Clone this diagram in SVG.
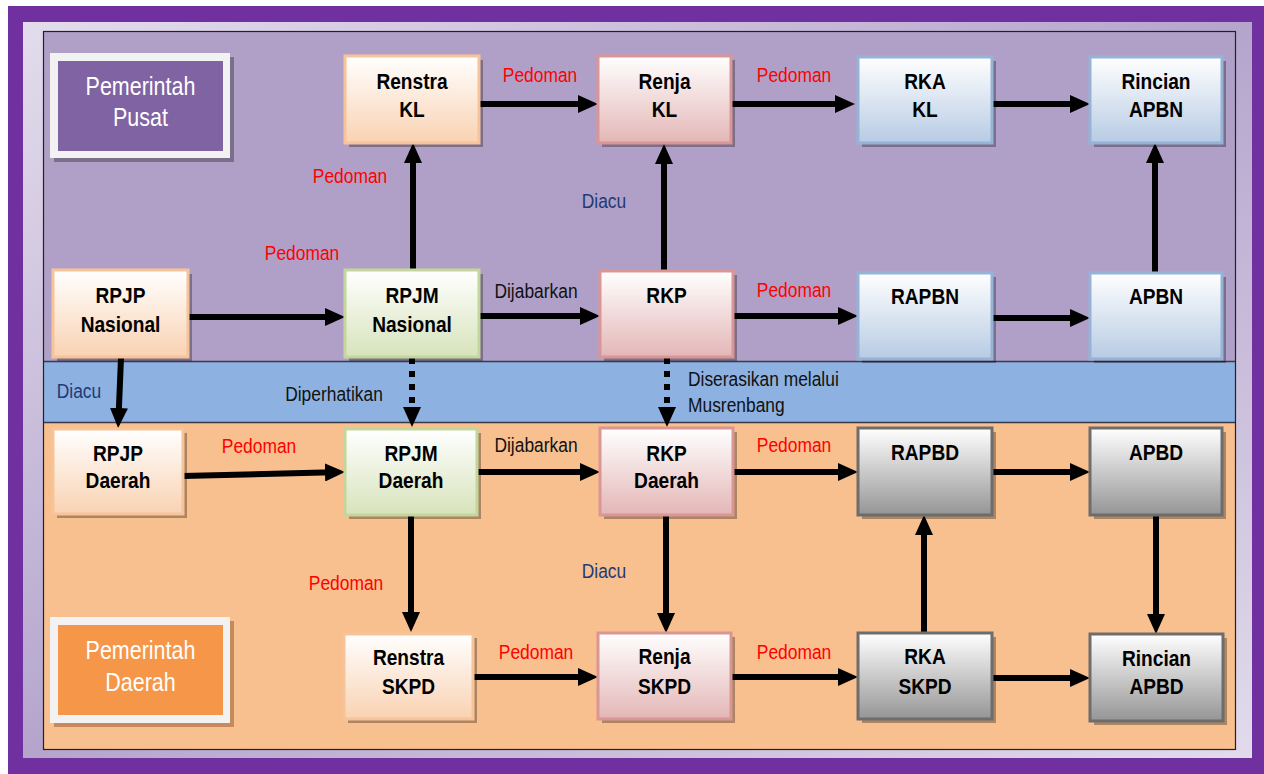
<svg xmlns="http://www.w3.org/2000/svg" width="1264" height="774" viewBox="0 0 1264 774">
<defs>
<linearGradient id="frameG" x1="0" y1="0" x2="1" y2="1">
<stop offset="0" stop-color="#e3dcec"/><stop offset="0.5" stop-color="#b5a5cd"/><stop offset="1" stop-color="#e2dbec"/>
</linearGradient>
<linearGradient id="gPeach" x1="0" y1="0" x2="0" y2="1"><stop offset="0" stop-color="#ffffff"/><stop offset="1" stop-color="#f9d2b2"/></linearGradient>
<linearGradient id="gGreen" x1="0" y1="0" x2="0" y2="1"><stop offset="0" stop-color="#ffffff"/><stop offset="1" stop-color="#d7e3bb"/></linearGradient>
<linearGradient id="gPink" x1="0" y1="0" x2="0" y2="1"><stop offset="0" stop-color="#ffffff"/><stop offset="1" stop-color="#e4b6b6"/></linearGradient>
<linearGradient id="gBlue" x1="0" y1="0" x2="0" y2="1"><stop offset="0" stop-color="#ffffff"/><stop offset="1" stop-color="#b7cbe4"/></linearGradient>
<linearGradient id="gGray" x1="0" y1="0" x2="0" y2="1"><stop offset="0" stop-color="#ffffff"/><stop offset="1" stop-color="#959595"/></linearGradient>
<marker id="ah" viewBox="0 0 20 18" markerWidth="20" markerHeight="18" refX="8" refY="9" orient="auto" markerUnits="userSpaceOnUse">
<path d="M0,0 L20,9 L0,18 Z" fill="#000"/>
</marker>
<style>
.peach{fill:url(#gPeach);stroke:#f7c398;stroke-width:3}
.green{fill:url(#gGreen);stroke:#c3d69b;stroke-width:3}
.pink{fill:url(#gPink);stroke:#d99694;stroke-width:3}
.blue{fill:url(#gBlue);stroke:#95b3d7;stroke-width:3}
.gray{fill:url(#gGray);stroke:#6d6d6d;stroke-width:3}
.sh{fill:#000;opacity:0.3}
.nt{font-family:"Liberation Sans",Arial,sans-serif;font-weight:bold;font-size:22px;fill:#000;text-anchor:middle}
.lb{font-family:"Liberation Sans",Arial,sans-serif;font-size:20px}
.red{fill:#ff0000}
.navy{fill:#1f3a78}
.blk{fill:#111}
.gt{font-family:"Liberation Sans",Arial,sans-serif;font-size:25px;fill:#fff;text-anchor:middle}
.ar{fill:none;stroke:#000;stroke-width:6;marker-end:url(#ah)}
.dt{stroke-dasharray:6 7}
</style>
</defs>

<g id="background">
<rect x="0" y="0" width="1264" height="774" fill="#ffffff"/>
<rect x="8" y="6" width="1256" height="768" fill="#7030a0"/>
<rect x="23" y="22" width="1229" height="736" fill="url(#frameG)"/>
<rect x="43" y="31" width="1193" height="330" fill="#b0a0c7"/>
<rect x="43" y="361" width="1193" height="61" fill="#8db1e1"/>
<rect x="43" y="422" width="1193" height="328" fill="#f8bf8f"/>
<line x1="43" y1="361.5" x2="1236" y2="361.5" stroke="#3a3a4a" stroke-width="1.5"/>
<line x1="43" y1="422.5" x2="1236" y2="422.5" stroke="#3a3a4a" stroke-width="1.5"/>
<rect x="43.5" y="31.5" width="1192" height="718" fill="none" stroke="#222" stroke-width="1.2"/>
</g>

<g id="label-pusat">
<rect x="54" y="57" width="180" height="105" fill="#000" opacity="0.3"/>
<rect x="50" y="53" width="180" height="105" fill="#f2f2f2"/>
<rect x="58" y="61" width="165" height="90" fill="#7f63a2"/>
<text class="gt" transform="translate(140.5,0) scale(0.86,1)"><tspan x="0" y="95">Pemerintah</tspan><tspan x="0" y="126">Pusat</tspan></text>
</g>

<g id="label-daerah">
<rect x="54" y="621" width="180" height="106" fill="#8a4a20" opacity="0.45"/>
<rect x="50" y="617" width="180" height="106" fill="#f2f2f2"/>
<rect x="58" y="625" width="165" height="90" fill="#f59649"/>
<text class="gt" transform="translate(140.5,0) scale(0.86,1)"><tspan x="0" y="659">Pemerintah</tspan><tspan x="0" y="691">Daerah</tspan></text>
</g>

<g id="connectors">
<path class="ar" d="M479,104 H586"/>
<path class="ar" d="M731,104 H843"/>
<path class="ar" d="M992,104 H1078"/>
<path class="ar" d="M188,317 H333"/>
<path class="ar" d="M413,270 V155"/>
<path class="ar" d="M479,316 H588"/>
<path class="ar" d="M664,271 V156"/>
<path class="ar" d="M733,316 H846"/>
<path class="ar" d="M992,318 H1078"/>
<path class="ar" d="M1155,273 V155"/>
<path class="ar" d="M121,358 L118.6,416"/>
<path class="ar dt" d="M412,358 V415"/>
<path class="ar dt" d="M667,358 V415"/>
<path class="ar" d="M183,476 L333,472.3"/>
<path class="ar" d="M477,472 H588"/>
<path class="ar" d="M733,472 H846"/>
<path class="ar" d="M992,472 H1078"/>
<path class="ar" d="M411,515 V620"/>
<path class="ar" d="M666,515 V621"/>
<path class="ar" d="M473,677 H586"/>
<path class="ar" d="M731,677 H846"/>
<path class="ar" d="M924,633 V527"/>
<path class="ar" d="M992,678 H1078"/>
<path class="ar" d="M1156,515 V622"/>
</g>

<g id="edge-labels">
<text class="lb red" transform="translate(540,82) scale(0.87,1)" text-anchor="middle">Pedoman</text>
<text class="lb red" transform="translate(794,82) scale(0.87,1)" text-anchor="middle">Pedoman</text>
<text class="lb red" transform="translate(350,183) scale(0.87,1)" text-anchor="middle">Pedoman</text>
<text class="lb red" transform="translate(302,260) scale(0.87,1)" text-anchor="middle">Pedoman</text>
<text class="lb navy" transform="translate(604,208) scale(0.87,1)" text-anchor="middle">Diacu</text>
<text class="lb blk" transform="translate(536,298) scale(0.87,1)" text-anchor="middle">Dijabarkan</text>
<text class="lb red" transform="translate(794,297) scale(0.87,1)" text-anchor="middle">Pedoman</text>
<text class="lb navy" transform="translate(79,398) scale(0.87,1)" text-anchor="middle">Diacu</text>
<text class="lb blk" transform="translate(334,401) scale(0.87,1)" text-anchor="middle">Diperhatikan</text>
<text class="lb blk" transform="translate(688,386) scale(0.87,1)">Diserasikan melalui</text>
<text class="lb blk" transform="translate(688,412) scale(0.87,1)">Musrenbang</text>
<text class="lb red" transform="translate(259,453) scale(0.87,1)" text-anchor="middle">Pedoman</text>
<text class="lb blk" transform="translate(536,452) scale(0.87,1)" text-anchor="middle">Dijabarkan</text>
<text class="lb red" transform="translate(794,452) scale(0.87,1)" text-anchor="middle">Pedoman</text>
<text class="lb red" transform="translate(346,590) scale(0.87,1)" text-anchor="middle">Pedoman</text>
<text class="lb navy" transform="translate(604,578) scale(0.87,1)" text-anchor="middle">Diacu</text>
<text class="lb red" transform="translate(536,659) scale(0.87,1)" text-anchor="middle">Pedoman</text>
<text class="lb red" transform="translate(794,659) scale(0.87,1)" text-anchor="middle">Pedoman</text>
</g>

<g id="renstra-kl">
<rect class="sh" x="349" y="60" width="134" height="87"/>
<rect class="peach" x="345" y="56" width="134" height="87"/>
<text class="nt" transform="translate(412,0) scale(0.87,1)"><tspan x="0" y="89">Renstra</tspan><tspan x="0" y="117">KL</tspan></text>
</g>
<g id="renja-kl">
<rect class="sh" x="602" y="60" width="133" height="87"/>
<rect class="pink" x="598" y="56" width="133" height="87"/>
<text class="nt" transform="translate(664.5,0) scale(0.87,1)"><tspan x="0" y="89">Renja</tspan><tspan x="0" y="117">KL</tspan></text>
</g>
<g id="rka-kl">
<rect class="sh" x="862" y="61" width="134" height="86"/>
<rect class="blue" x="858" y="57" width="134" height="86"/>
<text class="nt" transform="translate(925,0) scale(0.87,1)"><tspan x="0" y="89">RKA</tspan><tspan x="0" y="117">KL</tspan></text>
</g>
<g id="rincian-apbn">
<rect class="sh" x="1094" y="61" width="132" height="86"/>
<rect class="blue" x="1090" y="57" width="132" height="86"/>
<text class="nt" transform="translate(1156,0) scale(0.87,1)"><tspan x="0" y="89">Rincian</tspan><tspan x="0" y="117">APBN</tspan></text>
</g>

<g id="rpjp-nasional">
<rect class="sh" x="57" y="274" width="135" height="87"/>
<rect class="peach" x="53" y="270" width="135" height="87"/>
<text class="nt" transform="translate(120.5,0) scale(0.87,1)"><tspan x="0" y="303">RPJP</tspan><tspan x="0" y="332">Nasional</tspan></text>
</g>
<g id="rpjm-nasional">
<rect class="sh" x="349" y="274" width="134" height="87"/>
<rect class="green" x="345" y="270" width="134" height="87"/>
<text class="nt" transform="translate(412,0) scale(0.87,1)"><tspan x="0" y="303">RPJM</tspan><tspan x="0" y="332">Nasional</tspan></text>
</g>
<g id="rkp">
<rect class="sh" x="604" y="275" width="133" height="86"/>
<rect class="pink" x="600" y="271" width="133" height="86"/>
<text class="nt" transform="translate(666.5,0) scale(0.87,1)"><tspan x="0" y="303">RKP</tspan></text>
</g>
<g id="rapbn">
<rect class="sh" x="862" y="277" width="134" height="86"/>
<rect class="blue" x="858" y="273" width="134" height="86"/>
<text class="nt" transform="translate(925,0) scale(0.87,1)"><tspan x="0" y="304">RAPBN</tspan></text>
</g>
<g id="apbn">
<rect class="sh" x="1094" y="277" width="132" height="86"/>
<rect class="blue" x="1090" y="273" width="132" height="86"/>
<text class="nt" transform="translate(1156,0) scale(0.87,1)"><tspan x="0" y="304">APBN</tspan></text>
</g>

<g id="rpjp-daerah">
<rect class="sh" x="57" y="433" width="130" height="85"/>
<rect class="peach" x="53" y="429" width="130" height="85"/>
<text class="nt" transform="translate(118,0) scale(0.87,1)"><tspan x="0" y="461">RPJP</tspan><tspan x="0" y="488">Daerah</tspan></text>
</g>
<g id="rpjm-daerah">
<rect class="sh" x="349" y="433" width="132" height="86"/>
<rect class="green" x="345" y="429" width="132" height="86"/>
<text class="nt" transform="translate(411,0) scale(0.87,1)"><tspan x="0" y="461">RPJM</tspan><tspan x="0" y="488">Daerah</tspan></text>
</g>
<g id="rkp-daerah">
<rect class="sh" x="604" y="432" width="133" height="87"/>
<rect class="pink" x="600" y="428" width="133" height="87"/>
<text class="nt" transform="translate(666.5,0) scale(0.87,1)"><tspan x="0" y="461">RKP</tspan><tspan x="0" y="488">Daerah</tspan></text>
</g>
<g id="rapbd">
<rect class="sh" x="862" y="432" width="134" height="87"/>
<rect class="gray" x="858" y="428" width="134" height="87"/>
<text class="nt" transform="translate(925,0) scale(0.87,1)"><tspan x="0" y="460">RAPBD</tspan></text>
</g>
<g id="apbd">
<rect class="sh" x="1094" y="432" width="132" height="87"/>
<rect class="gray" x="1090" y="428" width="132" height="87"/>
<text class="nt" transform="translate(1156,0) scale(0.87,1)"><tspan x="0" y="460">APBD</tspan></text>
</g>

<g id="renstra-skpd">
<rect class="sh" x="348" y="638" width="129" height="85"/>
<rect class="peach" x="344" y="634" width="129" height="85"/>
<text class="nt" transform="translate(408.5,0) scale(0.87,1)"><tspan x="0" y="665">Renstra</tspan><tspan x="0" y="694">SKPD</tspan></text>
</g>
<g id="renja-skpd">
<rect class="sh" x="602" y="637" width="133" height="86"/>
<rect class="pink" x="598" y="633" width="133" height="86"/>
<text class="nt" transform="translate(664.5,0) scale(0.87,1)"><tspan x="0" y="664">Renja</tspan><tspan x="0" y="694">SKPD</tspan></text>
</g>
<g id="rka-skpd">
<rect class="sh" x="862" y="637" width="134" height="86"/>
<rect class="gray" x="858" y="633" width="134" height="86"/>
<text class="nt" transform="translate(925,0) scale(0.87,1)"><tspan x="0" y="664">RKA</tspan><tspan x="0" y="694">SKPD</tspan></text>
</g>
<g id="rincian-apbd">
<rect class="sh" x="1094" y="638" width="133" height="87"/>
<rect class="gray" x="1090" y="634" width="133" height="87"/>
<text class="nt" transform="translate(1156.5,0) scale(0.87,1)"><tspan x="0" y="666">Rincian</tspan><tspan x="0" y="694">APBD</tspan></text>
</g>
</svg>
